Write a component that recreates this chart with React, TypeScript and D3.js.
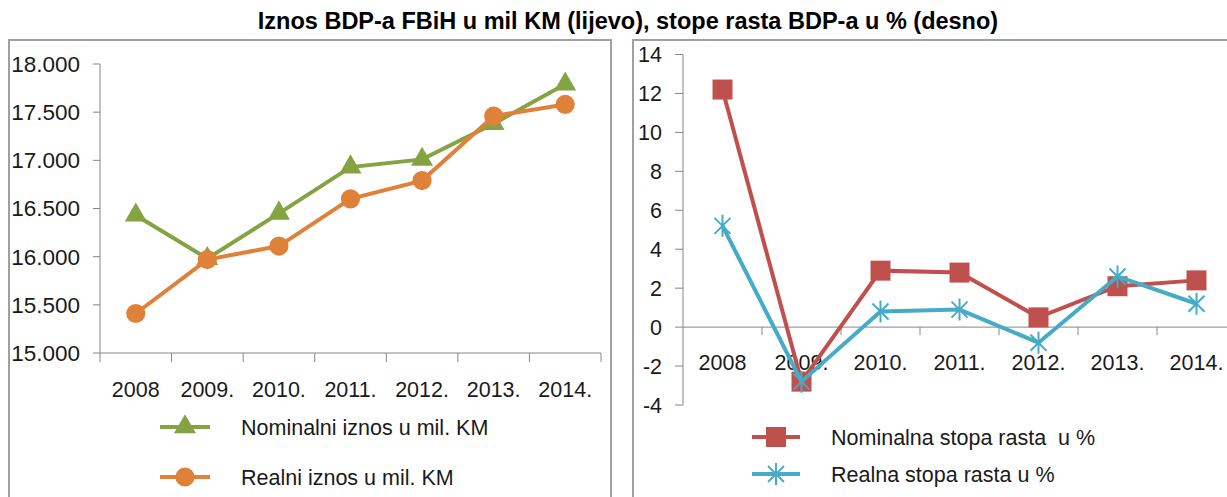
import React from "react";
import { scaleBand, scaleLinear, line, symbol, symbolTriangle, symbolSquare, symbolCircle } from "d3";

// data
const years = ["2008", "2009.", "2010.", "2011.", "2012.", "2013.", "2014."];
const nominalIznos = [16430, 15980, 16450, 16930, 17010, 17380, 17790];
const realniIznos = [15410, 15970, 16110, 16600, 16790, 17460, 17580];
const leftTicks = [15000, 15500, 16000, 16500, 17000, 17500, 18000];

const nominalnaStopa = [12.2, -2.8, 2.9, 2.8, 0.5, 2.1, 2.4];
const realnaStopa = [5.2, -2.8, 0.8, 0.9, -0.8, 2.6, 1.2];
const rightTicks = [-4, -2, 0, 2, 4, 6, 8, 10, 12, 14];

const title = "Iznos BDP-a FBiH u mil KM (lijevo), stope rasta BDP-a u % (desno)";

const GREEN = "#84a444";
const ORANGE = "#e0813a";
const RED = "#c0504d";
const BLUE = "#45abc6";
const AXIS = "#868686";
const FONT = "'Liberation Sans', Arial, sans-serif";

const triangle = symbol().type(symbolTriangle).size(210)();
const square = symbol().type(symbolSquare).size(400)();
const circle = symbol().type(symbolCircle).size(290)();

const Star = ({ x, y }: { x: number; y: number }) => (
  <path
    transform={`translate(${x},${y})`}
    d="M-8,-8L8,8M-8,8L8,-8M0,-11L0,11"
    stroke={BLUE}
    strokeWidth={2}
  />
);

const LeftChart = () => {
  const x = scaleBand().domain(years).range([100, 601]);
  const y = scaleLinear().domain([15000, 18000]).range([353, 64]);
  const cx = (d: string) => (x(d) || 0) + x.bandwidth() / 2;
  const path = line<number>()
    .x((_, i) => cx(years[i]))
    .y((v) => y(v));
  const bounds = [...years.map((d) => x(d) || 0), x.range()[1]];

  return (
    <g>
      <rect x={9} y={40} width={602} height={480} fill="#fff" stroke="#a0a0a0" strokeWidth={2} />
      {/* y axis */}
      <line x1={100} x2={100} y1={y(18000)} y2={y(15000)} stroke={AXIS} />
      {leftTicks.map((t) => (
        <g key={t}>
          <line x1={93} x2={100} y1={y(t)} y2={y(t)} stroke={AXIS} />
          <text x={80} y={y(t)} dy="0.35em" textAnchor="end" fontSize={22.5} fill="#1a1a1a">
            {(t / 1000).toFixed(3)}
          </text>
        </g>
      ))}
      {/* x axis */}
      <line x1={100} x2={601} y1={y(15000)} y2={y(15000)} stroke={AXIS} />
      {bounds.map((b, i) => (
        <line key={i} x1={b} x2={b} y1={353} y2={362} stroke={AXIS} />
      ))}
      {years.map((d) => (
        <text key={d} x={cx(d)} y={397} textAnchor="middle" fontSize={21.5} fill="#1a1a1a">
          {d}
        </text>
      ))}
      {/* series */}
      <path d={path(nominalIznos) || ""} fill="none" stroke={GREEN} strokeWidth={4} />
      {nominalIznos.map((v, i) => (
        <path key={i} d={triangle || ""} transform={`translate(${cx(years[i])},${y(v)})`} fill={GREEN} />
      ))}
      <path d={path(realniIznos) || ""} fill="none" stroke={ORANGE} strokeWidth={4} />
      {realniIznos.map((v, i) => (
        <path key={i} d={circle || ""} transform={`translate(${cx(years[i])},${y(v)})`} fill={ORANGE} />
      ))}
      {/* legend */}
      <line x1={160} x2={210} y1={427} y2={427} stroke={GREEN} strokeWidth={4} />
      <path d={triangle || ""} transform="translate(185,427)" fill={GREEN} />
      <text x={241} y={427} dy="0.35em" fontSize={21.5} fill="#1a1a1a">Nominalni iznos u mil. KM</text>
      <line x1={160} x2={210} y1={477} y2={477} stroke={ORANGE} strokeWidth={4} />
      <path d={circle || ""} transform="translate(185,477)" fill={ORANGE} />
      <text x={241} y={477} dy="0.35em" fontSize={21.5} fill="#1a1a1a">Realni iznos u mil. KM</text>
    </g>
  );
};

const RightChart = () => {
  const x = scaleBand().domain(years).range([683, 1236]);
  const y = scaleLinear().domain([-4, 14]).range([405, 54.5]);
  const cx = (d: string) => (x(d) || 0) + x.bandwidth() / 2;
  const path = line<number>()
    .x((_, i) => cx(years[i]))
    .y((v) => y(v));
  const bounds = years.slice(1).map((d) => x(d) || 0);

  return (
    <g>
      <rect x={633} y={40} width={620} height={480} fill="#fff" stroke="#a0a0a0" strokeWidth={2} />
      <line x1={683} x2={683} y1={y(14)} y2={y(-4)} stroke={AXIS} />
      {rightTicks.map((t) => (
        <g key={t}>
          <line x1={675} x2={683} y1={y(t)} y2={y(t)} stroke={AXIS} />
          <text x={662} y={y(t)} dy="0.35em" textAnchor="end" fontSize={21.5} fill="#1a1a1a">
            {t}
          </text>
        </g>
      ))}
      <line x1={683} x2={1236} y1={y(0)} y2={y(0)} stroke={AXIS} />
      {bounds.map((b, i) => (
        <line key={i} x1={b} x2={b} y1={y(0)} y2={y(0) + 8} stroke={AXIS} />
      ))}
      {years.map((d) => (
        <text key={d} x={cx(d)} y={370} textAnchor="middle" fontSize={21.5} fill="#1a1a1a">
          {d}
        </text>
      ))}
      <path d={path(nominalnaStopa) || ""} fill="none" stroke={RED} strokeWidth={4} />
      {nominalnaStopa.map((v, i) => (
        <path key={i} d={square || ""} transform={`translate(${cx(years[i])},${y(v)})`} fill={RED} />
      ))}
      <path d={path(realnaStopa) || ""} fill="none" stroke={BLUE} strokeWidth={4} />
      {realnaStopa.map((v, i) => (
        <Star key={i} x={cx(years[i])} y={y(v)} />
      ))}
      {/* legend */}
      <line x1={752} x2={800} y1={437} y2={437} stroke={RED} strokeWidth={4} />
      <path d={square || ""} transform="translate(776,437)" fill={RED} />
      <text x={831} y={437} dy="0.35em" fontSize={21.5} fill="#1a1a1a" style={{ whiteSpace: "pre" }}>
        {"Nominalna stopa rasta  u %"}
      </text>
      <line x1={752} x2={800} y1={474} y2={474} stroke={BLUE} strokeWidth={4} />
      <Star x={776} y={474} />
      <text x={831} y={474} dy="0.35em" fontSize={21.5} fill="#1a1a1a">Realna stopa rasta u %</text>
    </g>
  );
};

export default function App() {
  return (
    <svg
      width={1227}
      height={497}
      style={{ position: "absolute", left: 0, top: 0, background: "#fff" }}
      fontFamily={FONT}
    >
      <text x={628} y={29} textAnchor="middle" fontSize={23.5} fontWeight="bold" fill="#000">
        {title}
      </text>
      <LeftChart />
      <RightChart />
    </svg>
  );
}
